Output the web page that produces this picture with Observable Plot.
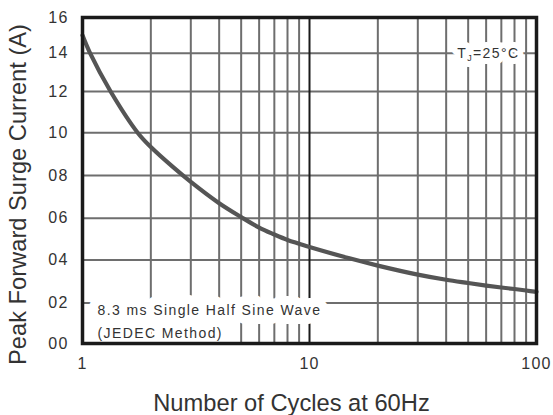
<!DOCTYPE html>
<html>
<head>
<meta charset="utf-8">
<script src="https://cdn.jsdelivr.net/npm/d3@7"></script>
<script src="https://cdn.jsdelivr.net/npm/@observablehq/plot@0.6"></script>
<style>
  html, body { margin: 0; padding: 0; background: #fff; }
  .spaced text { letter-spacing: 1.4px; }
  .ticks text { letter-spacing: 1.2px; }
</style>
</head>
<body>
<div id="chart"></div>
<script>
// Data
const cycles  = [1, 1.08, 1.33, 1.75, 2, 2.5, 3, 4, 5, 6, 7, 8, 9, 10, 15, 20, 30, 40, 50, 60, 70, 80, 90, 100];
const current = [15.0, 14.0, 12.0, 10.0, 9.33, 8.4, 7.7, 6.7, 6.05, 5.55, 5.22, 4.96, 4.78, 4.62, 4.08, 3.74, 3.32, 3.08, 2.93, 2.81, 2.72, 2.65, 2.58, 2.52];

const xTicks = [1, 10, 100];
const xTickLabels = ["1", "10", "100"];
const yTicks = [0, 2, 4, 6, 8, 10, 12, 14, 16];
const yTickLabels = ["00", "02", "04", "06", "08", "10", "12", "14", "16"];
const xMinorGrid = [2, 3, 4, 5, 6, 7, 8, 9, 20, 30, 40, 50, 60, 70, 80, 90];
const xMajorGrid = [10];
const yGrid = [2, 4, 6, 8, 10, 12, 14];

const xTitle = "Number of Cycles at 60Hz";
const yTitle = "Peak Forward Surge Current (A)";
const noteText = "8.3 ms Single Half Sine Wave\n(JEDEC Method)";
const tempText = "TJ=25°C";

const data = cycles.map((c, i) => ({cycles: c, current: current[i]}));

// Turn "TJ=25°C" into T + subscript J + "=25°C"
function subscriptJ(index, scales, values, dims, context, next) {
  const g = next(index, scales, values, dims, context);
  const ns = "http://www.w3.org/2000/svg";
  g.querySelectorAll("text").forEach(t => {
    const s = t.textContent;
    t.textContent = "";
    const a = document.createElementNS(ns, "tspan"); a.textContent = s.slice(0, 1);
    const b = document.createElementNS(ns, "tspan"); b.textContent = s.slice(1, 2);
    b.setAttribute("font-size", "9"); b.setAttribute("dy", "3");
    const c = document.createElementNS(ns, "tspan"); c.textContent = s.slice(2);
    c.setAttribute("dy", "-3");
    t.append(a, b, c);
  });
  return g;
}

const noteOpts = {frameAnchor: "bottom-left", textAnchor: "start", lineAnchor: "bottom",
  dx: 15, dy: -6, fontSize: 14, lineHeight: 1.62, className: "spaced"};
const tempOpts = {frameAnchor: "top-right", textAnchor: "end", lineAnchor: "middle",
  dx: -17, dy: 36, fontSize: 14, className: "spaced", render: subscriptJ};

const chart = Plot.plot({
  width: 553,
  height: 415,
  marginLeft: 82,
  marginRight: 17,
  marginTop: 17,
  marginBottom: 72,
  style: {fontFamily: "'Liberation Sans', Arial, sans-serif", background: "#fff", color: "#333"},
  x: {type: "log", domain: [1, 100]},
  y: {type: "linear", domain: yTicks, range: [343, 302.5, 259.5, 217.7, 175, 132.2, 91, 52.7, 17]},
  marks: [
    Plot.ruleY(yGrid, {stroke: "#6e6e6e", strokeWidth: 2}),
    Plot.ruleX(xMinorGrid, {stroke: "#6e6e6e", strokeWidth: 2}),
    Plot.ruleX(xMajorGrid, {stroke: "#1a1a1a", strokeWidth: 2}),
    Plot.line(data, {x: "cycles", y: "current", stroke: "#555", strokeWidth: 4.2, curve: "catmull-rom"}),
    // white halos behind the annotations (they break the grid like the reference)
    Plot.text([noteText], {...noteOpts, fill: "#fff", stroke: "#fff", strokeWidth: 18}),
    Plot.text([tempText], {...tempOpts, fill: "#fff", stroke: "#fff", strokeWidth: 12}),
    Plot.text([noteText], {...noteOpts, fill: "#333"}),
    Plot.text([tempText], {...tempOpts, fill: "#333"}),
    Plot.frame({stroke: "#1a1a1a", strokeWidth: 3.5}),
    Plot.axisY(yTicks, {tickSize: 0, tickPadding: 14, fontSize: 16, fill: "#333", className: "ticks",
      tickFormat: d => yTickLabels[yTicks.indexOf(d)], label: null}),
    Plot.axisX(xTicks, {tickSize: 0, tickPadding: 14, fontSize: 16, fill: "#333", className: "ticks",
      tickFormat: d => xTickLabels[xTicks.indexOf(d)], label: null}),
    Plot.text([xTitle], {frameAnchor: "bottom", dx: -18, dy: 67, lineAnchor: "bottom", fontSize: 23.7, fill: "#333"}),
    Plot.text([yTitle], {frameAnchor: "left", textAnchor: "middle", dx: -57, dy: 14, rotate: -90, lineAnchor: "bottom", fontSize: 23.7, fill: "#333"})
  ]
});
document.getElementById("chart").append(chart);
</script>
</body>
</html>
